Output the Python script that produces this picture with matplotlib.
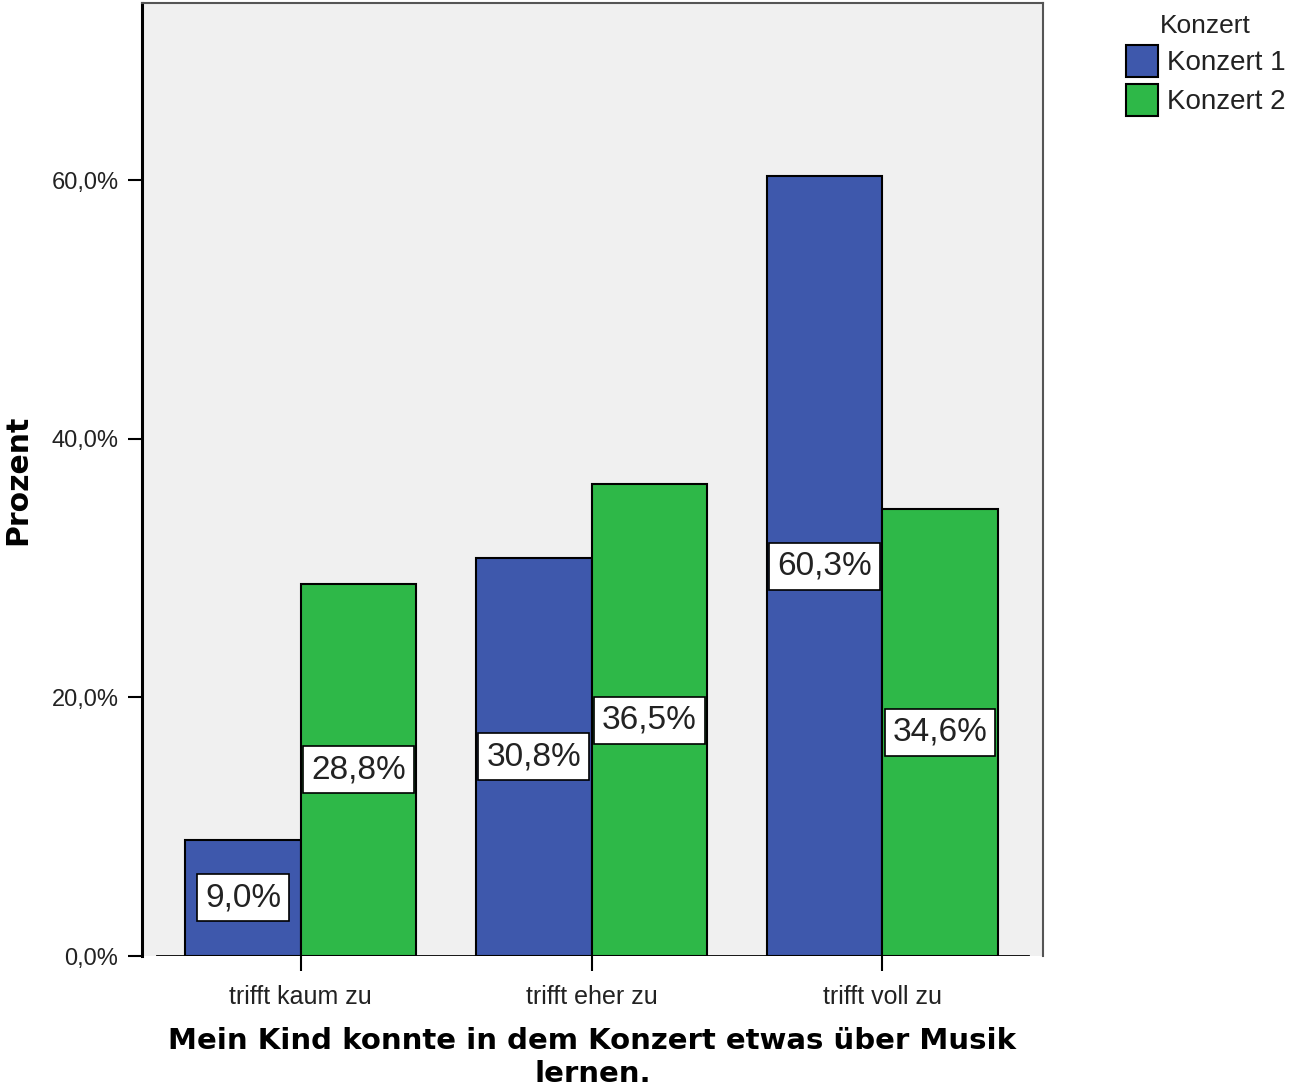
#!/usr/bin/env python3

import numpy as np
import matplotlib
matplotlib.use('Agg')
import matplotlib.pyplot as plt

plt.rcParams['font.family'] = ['Liberation Sans', 'DejaVu Sans']

categories = ['trifft kaum zu', 'trifft eher zu', 'trifft voll zu']
konzert1 = [9.0, 30.8, 60.3]
konzert2 = [28.8, 36.5, 34.6]
series_names = ['Konzert 1', 'Konzert 2']
yticks = [0, 20, 40, 60]
ytick_labels = ['0,0%', '20,0%', '40,0%', '60,0%']

blue = '#3e58ac'
green = '#2eb848'

fig = plt.figure(figsize=(12.97, 10.92), dpi=100)
ax = fig.add_axes([0.1095, 0.1245, 0.6947, 0.8728])
ax.set_facecolor('#f0f0f0')

x = np.arange(len(categories))
w = 0.397
b1 = ax.bar(x - w/2, konzert1, w, color=blue, edgecolor='black', linewidth=1.5, label=series_names[0], zorder=2)
b2 = ax.bar(x + w/2, konzert2, w, color=green, edgecolor='black', linewidth=1.5, label=series_names[1], zorder=2)

# value labels in the middle of each bar
for bars, vals in [(b1, konzert1), (b2, konzert2)]:
    for rect, v in zip(bars, vals):
        ax.text(rect.get_x() + rect.get_width()/2, v/2, ('%.1f%%' % v).replace('.', ','),
                ha='center', va='center', fontsize=24, color='#222222', zorder=4,
                bbox=dict(boxstyle='square,pad=0.24', facecolor='white', edgecolor='black', linewidth=1.2))

ax.set_xlim(-0.546, 2.553)
ax.set_ylim(0, 73.7)

ax.set_yticks(yticks)
ax.set_yticklabels(ytick_labels, fontsize=17, color='#222222')
ax.tick_params(axis='y', length=10, width=1.5, pad=7)
ax.set_xticks(x)
ax.set_xticklabels(categories, fontsize=18, color='#222222')
ax.tick_params(axis='x', length=11, width=1.5, pad=10)

ax.spines['left'].set_linewidth(2.2)
ax.spines['left'].set_color('black')
for s in ['top', 'right']:
    ax.spines[s].set_color('#555555')
    ax.spines[s].set_linewidth(1.5)
ax.spines['bottom'].set_visible(False)
ax.axhline(0, xmin=0.0166, xmax=0.983, color='black', linewidth=2, zorder=3)

ax.set_xlabel('Mein Kind konnte in dem Konzert etwas über Musik\nlernen.',
              fontsize=21, fontweight='bold', family='DejaVu Sans', linespacing=1.2, labelpad=13)
ax.set_ylabel('Prozent', fontsize=21.5, fontweight='bold', family='DejaVu Sans', labelpad=14)

leg = ax.legend(loc='upper left', bbox_to_anchor=(1.08, 1.0), title='Konzert', fontsize=20,
                title_fontsize=19, frameon=False, handlelength=1.15, handleheight=1.4,
                handletextpad=0.3, labelspacing=0.25, borderaxespad=0)
for t in leg.get_texts():
    t.set_color('#222222')
leg.get_title().set_color('#222222')

fig.savefig('out.png', dpi=100)
